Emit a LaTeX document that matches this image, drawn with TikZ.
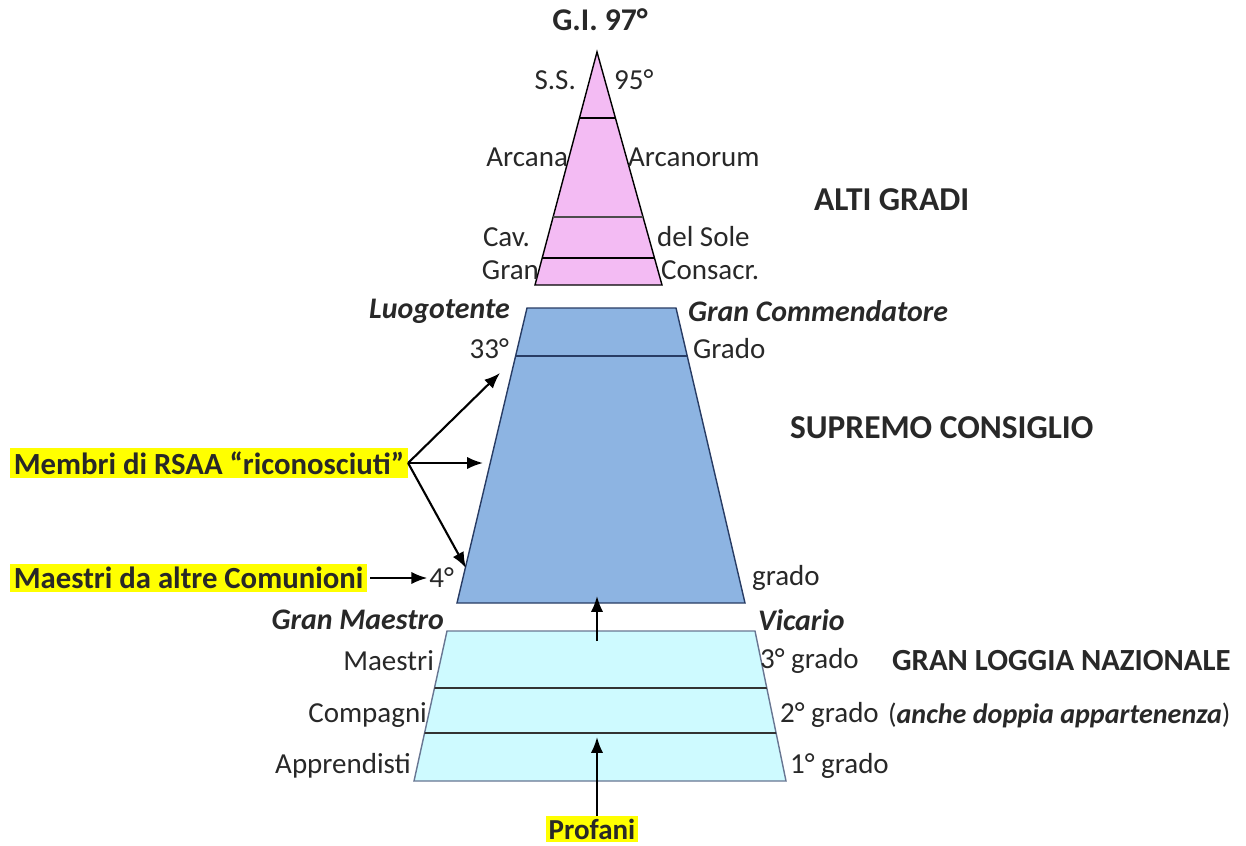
\documentclass[tikz,border=0pt]{standalone}
\usepackage{fontspec}
\setmainfont{Carlito}
\usetikzlibrary{arrows.meta}
\definecolor{pinkfig}{RGB}{243,187,243}
\definecolor{bluefig}{RGB}{141,180,226}
\definecolor{cyanfig}{RGB}{206,250,255}
\definecolor{edgefig}{RGB}{40,60,100}
\definecolor{hlfig}{RGB}{255,255,0}
\definecolor{txtfig}{RGB}{40,40,40}

\tikzset{
  lbl/.style={font=\fontsize{16.5}{18}\selectfont, text=txtfig, inner sep=1pt},
  head/.style={lbl, font=\fontsize{19}{21}\selectfont\bfseries},
  role/.style={lbl, font=\fontsize{17}{19}\selectfont\bfseries\itshape},
  hilite/.style={lbl, font=\fontsize{17.5}{19}\selectfont\bfseries, fill=hlfig, inner sep=2pt},
  arr/.style={-{Latex[length=9pt,width=7pt]}, line width=1.2pt, black}
}

\begin{document}
\begin{tikzpicture}[x=0.02cm, y=-0.02cm]
  \useasboundingbox (0,0) rectangle (1246,845);

  % alti gradi
  \draw[fill=pinkfig, line width=0.8pt] (597,52) -- (662,285) -- (535,285) -- cycle;
  \begin{scope}
    \clip (597,52) -- (662,285) -- (535,285) -- cycle;
    \draw[line width=0.8pt] (400,118) -- (800,118);
    \draw[line width=0.8pt, black!70] (400,217) -- (800,217);
    \draw[line width=0.8pt] (400,258) -- (800,258);
  \end{scope}

  % supremo consiglio
  \draw[fill=bluefig, draw=edgefig, line width=0.8pt] (527,308) -- (676,308) -- (745,603) -- (457,603) -- cycle;
  \begin{scope}
    \clip (527,308) -- (676,308) -- (745,603) -- (457,603) -- cycle;
    \draw[edgefig, line width=1pt] (400,356) -- (800,356);
  \end{scope}

  % gran loggia
  \draw[fill=cyanfig, draw=edgefig!70, line width=0.8pt] (447,631) -- (755,631) -- (786,781) -- (414,781) -- cycle;
  \begin{scope}
    \clip (447,631) -- (755,631) -- (786,781) -- (414,781) -- cycle;
    \draw[black!80, line width=1pt] (400,688) -- (800,688);
    \draw[black!80, line width=1pt] (400,733) -- (800,733);
  \end{scope}

  % labels
  \node[head, font=\fontsize{18}{20}\selectfont\bfseries] (gi) at (600,20) {G.I. 97°};
  \node[lbl, anchor=east] (ss) at (578,80) {S.S.};
  \node[lbl, anchor=west] (g95) at (612,80) {95°};
  \node[lbl, anchor=east] (arcl) at (570,157) {Arcana};
  \node[lbl, anchor=west] (arcr) at (626,157) {Arcanorum};
  \node[lbl, anchor=east] (cav) at (532,237) {Cav.};
  \node[lbl, anchor=west] (sole) at (655,237) {del Sole};
  \node[lbl, anchor=east] (gran) at (541,270) {Gran};
  \node[lbl, anchor=west] (cons) at (659,270) {Consacr.};
  \node[head, anchor=west] (alti) at (812,200) {ALTI GRADI};

  \node[role, anchor=east] (luog) at (512,311) {Luogotente};
  \node[role, anchor=west] (comm) at (686,311) {Gran Commendatore};
  \node[lbl, anchor=east] (g33) at (511,349) {33°};
  \node[lbl, anchor=west] (grado33) at (691,349) {Grado};
  \node[head, anchor=west] (supremo) at (788,428) {SUPREMO CONSIGLIO};
  \node[lbl, anchor=east] (g4) at (456,578) {4°};
  \node[lbl, anchor=west] (grado4) at (750,578) {grado};

  \node[hilite, anchor=west] (membri) at (10,463) {Membri di RSAA “riconosciuti”};
  \node[hilite, anchor=west] (altre) at (10,578) {Maestri da altre Comunioni};

  \node[role, anchor=east] (gm) at (446,620) {Gran Maestro};
  \node[role, anchor=west] (vic) at (756,620) {Vicario};
  \node[lbl, anchor=east] (mae) at (436,661) {Maestri};
  \node[lbl, anchor=west] (g3) at (758,661) {3° grado};
  \node[head, anchor=west, font=\fontsize{17.5}{19}\selectfont\bfseries] (gln) at (890,661) {GRAN LOGGIA NAZIONALE};
  \node[lbl, anchor=east] (comp) at (429,715) {Compagni};
  \node[lbl, anchor=west] (g2) at (778,715) {2° grado};
  \node[lbl, anchor=west, font=\fontsize{16}{18}\selectfont] (doppia) at (886,715) {(\textbf{\textit{anche doppia appartenenza}})};
  \node[lbl, anchor=east] (appr) at (413,766) {Apprendisti};
  \node[lbl, anchor=west] (g1) at (788,766) {1° grado};
  \node[hilite, font=\fontsize{16.5}{18}\selectfont\bfseries, inner sep=1.5pt] (profani) at (592,829) {Profani};

  % arrows
  \coordinate (m33) at (500,373);
  \coordinate (mmid) at (483,463);
  \coordinate (mlow) at (466,568);
  \coordinate (upfrom) at (597,641);
  \coordinate (upto) at (597,596);
  \coordinate (prto) at (597,737);
  \draw[arr] (membri.east) -- (m33);
  \draw[arr] (membri.east) -- (mmid);
  \draw[arr] (membri.east) -- (mlow);
  \draw[arr] (altre.east) ++(3,0) -- (g4.west);
  \draw[arr] (upfrom) -- (upto);
  \draw[arr] (profani.north -| prto) -- (prto);
\end{tikzpicture}
\end{document}
